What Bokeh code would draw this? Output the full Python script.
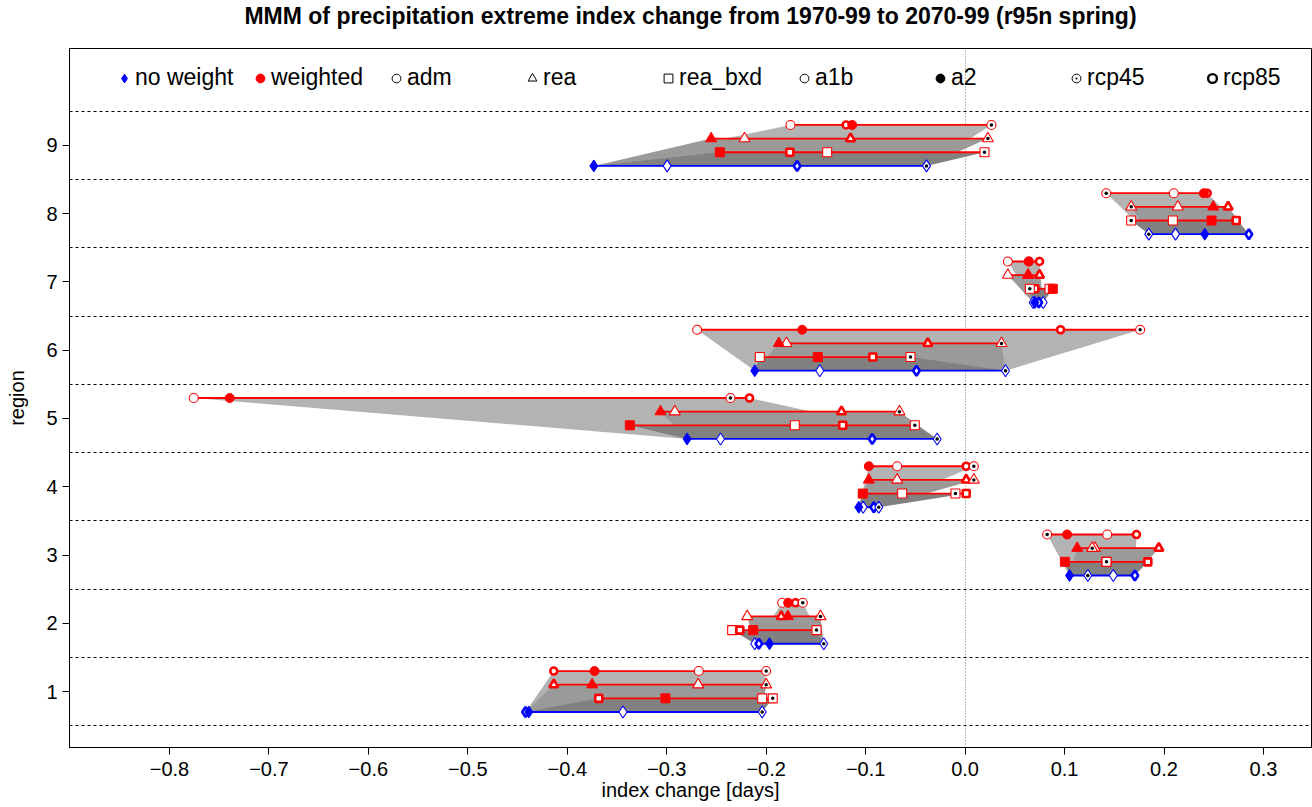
from bokeh.plotting import figure
from bokeh.models import Range1d, FixedTicker, Legend, LegendItem, CustomJSTickFormatter, Title
from bokeh.embed import file_html
from bokeh.resources import INLINE

regions = [1, 2, 3, 4, 5, 6, 7, 8, 9]
scenarios = ["a1b", "a2", "rcp45", "rcp85"]

# no weight (blue diamonds)
nw_a1b = [-0.344, -0.2115, 0.149, -0.1025, -0.2459, -0.1461, 0.0785, 0.2116, -0.2996]
nw_a2 = [-0.4387, -0.1967, 0.105, -0.1069, -0.2795, -0.2115, 0.0701, 0.241, -0.3733]
nw_rcp45 = [-0.204, -0.1421, 0.1234, -0.0868, -0.0281, 0.0406, 0.0684, 0.1847, -0.0388]
nw_rcp85 = [-0.442, -0.2074, 0.1707, -0.0918, -0.0934, -0.0489, 0.0741, 0.2853, -0.1689]

# rea_bxd (red squares)
bxd_a1b = [-0.204, -0.2342, 0.142, -0.0633, -0.1712, -0.2064, 0.0849, 0.2089, -0.1387]
bxd_a2 = [-0.3013, -0.2131, 0.1003, -0.1029, -0.3371, -0.1481, 0.0882, 0.2478, -0.2466]
bxd_rcp45 = [-0.1934, -0.1494, 0.1422, -0.0097, -0.0506, -0.0549, 0.0651, 0.167, 0.0195]
bxd_rcp85 = [-0.3683, -0.2265, 0.1837, 0.0011, -0.123, -0.0928, 0.0701, 0.2726, -0.1762]

# rea (red triangles)
rea_a1b = [-0.2684, -0.2191, 0.1305, -0.0683, -0.2919, -0.1796, 0.043, 0.2139, -0.2218]
rea_a2 = [-0.375, -0.1782, 0.1127, -0.0968, -0.3063, -0.1873, 0.0634, 0.2495, -0.2553]
rea_rcp45 = [-0.200, -0.1454, 0.1278, 0.0088, -0.066, 0.0366, 0.0634, 0.167, 0.0229]
rea_rcp85 = [-0.4136, -0.1849, 0.1948, 0.0011, -0.1243, -0.0375, 0.0748, 0.2645, -0.1152]

# adm (red circles)
adm_a1b = [-0.2678, -0.1839, 0.1429, -0.0683, -0.7756, -0.2694, 0.043, 0.2099, -0.1756]
adm_a2 = [-0.3726, -0.1779, 0.1026, -0.0968, -0.7394, -0.1638, 0.064, 0.240, -0.1135]
adm_rcp45 = [-0.200, -0.1632, 0.0825, 0.0088, -0.2359, 0.176, 0.064, 0.1419, 0.0265]
adm_rcp85 = [-0.4136, -0.1705, 0.1723, 0.0011, -0.2168, 0.096, 0.0748, 0.2434, -0.1196]

x_ticks = [-0.8, -0.7, -0.6, -0.5, -0.4, -0.3, -0.2, -0.1, 0.0, 0.1, 0.2, 0.3]

FONT = "Liberation Sans"
RED = "#ff0000"
BLUE = "#0000ff"

rows = [
    # name, values, marker, color, y offset, size, shade
    ("no weight", [nw_a1b, nw_a2, nw_rcp45, nw_rcp85], "diamond", BLUE, -0.3, 12, None),
    ("rea_bxd", [bxd_a1b, bxd_a2, bxd_rcp45, bxd_rcp85], "square", RED, -0.1, 9, "#818181"),
    ("rea", [rea_a1b, rea_a2, rea_rcp45, rea_rcp85], "triangle", RED, 0.1, 11, "#9a9a9a"),
    ("adm", [adm_a1b, adm_a2, adm_rcp45, adm_rcp85], "circle", RED, 0.3, 9, "#b3b3b3"),
]

p = figure(width=1312, height=807, output_backend="svg", toolbar_location=None,
           title_location=None,
           x_range=Range1d(-0.9005, 0.3483), y_range=Range1d(0.18, 10.42),
           min_border_left=69, min_border_right=1, min_border_top=48, min_border_bottom=60)

# shaded polygons: from the unweighted range to each weighted range
nw_vals = rows[0][1]
n = len(regions)
nw_min = [min(v[i] for v in nw_vals) for i in range(n)]
nw_max = [max(v[i] for v in nw_vals) for i in range(n)]
for name, vals, marker, color, off, size, shade in rows[1:][::-1]:
    xs, ys = [], []
    for i, r in enumerate(regions):
        mn = min(v[i] for v in vals)
        mx = max(v[i] for v in vals)
        xs.append([nw_min[i], nw_max[i], mx, mn])
        ys.append([r + rows[0][4], r + rows[0][4], r + off, r + off])
    p.patches(xs, ys, fill_color=shade, fill_alpha=1.0, line_color=None)

# range lines
for name, vals, marker, color, off, size, shade in rows:
    mn = [min(v[i] for v in vals) for i in range(n)]
    mx = [max(v[i] for v in vals) for i in range(n)]
    yy = [r + off for r in regions]
    p.segment(x0=mn, y0=yy, x1=mx, y1=yy, line_color=color, line_width=1.8)

# markers
for name, vals, marker, color, off, size, shade in rows:
    yy = [r + off for r in regions]
    a1b, a2, r45, r85 = vals
    p.scatter(a1b, yy, marker=marker, size=size, fill_color="white", line_color=color, line_width=1.1)
    p.scatter(r85, yy, marker=marker, size=size - 2, fill_color="white", line_color=color, line_width=2.6)
    p.scatter(r45, yy, marker=marker, size=size, fill_color="white", line_color=color, line_width=1.1)
    p.scatter(r45, yy, marker="circle", size=3.5, fill_color="black", line_color=None)
    p.scatter(a2, yy, marker=marker, size=size, fill_color=color, line_color=color, line_width=1)

# legend (glyph-only renderers, nothing plotted)
NAN = float("nan")
def lg(marker, fill, line, lw=1.0):
    return [p.scatter([NAN], [NAN], marker=marker, fill_color=fill, line_color=line, line_width=lw)]

legend_items = [
    ("no weight", lg("diamond", BLUE, BLUE)),
    ("weighted", lg("circle", RED, RED)),
    ("adm", lg("circle", "white", "black")),
    ("rea", lg("triangle", "white", "black")),
    ("rea_bxd", lg("square", "white", "black")),
    ("a1b", lg("circle", "white", "black")),
    ("a2", lg("circle", "black", "black")),
    ("rcp45", lg("circle_dot", "white", "black")),
    ("rcp85", lg("circle", "white", "black", lw=2.4)),
]
leg = Legend(items=[LegendItem(label=t, renderers=r) for t, r in legend_items],
             orientation="horizontal", location=(44, 656),
             glyph_width=22, glyph_height=22, label_standoff=0, label_width=100, spacing=14,
             padding=0, margin=0, border_line_alpha=0, background_fill_alpha=0,
             label_text_font=FONT, label_text_font_size="23px", label_height=22,
             label_text_color="black")
p.add_layout(leg, "center")

# axes
p.xaxis.ticker = FixedTicker(ticks=x_ticks)
p.xaxis.formatter = CustomJSTickFormatter(code="return (tick < -1e-9 ? '\u2212' : '') + Math.abs(tick).toFixed(1);")
p.yaxis.ticker = FixedTicker(ticks=regions)
for ax in (p.xaxis, p.yaxis):
    ax.major_tick_out = 7
    ax.major_tick_in = 0
    ax.minor_tick_line_color = None
    ax.axis_line_color = "black"
    ax.major_tick_line_color = "black"
    ax.major_label_text_font = FONT
    ax.major_label_text_font_size = "20px"
    ax.major_label_text_color = "black"
    ax.axis_label_text_font = FONT
    ax.axis_label_text_font_size = "20px"
    ax.axis_label_text_font_style = "normal"
    ax.axis_label_text_color = "black"
p.xaxis.major_label_standoff = 7
p.xaxis.axis_label_standoff = 0
p.yaxis.axis_label_standoff = 15
p.yaxis.major_label_orientation = "horizontal"
p.xaxis.axis_label = "index change [days]"
p.yaxis.axis_label = "region"

p.ygrid.ticker = FixedTicker(ticks=[r - 0.5 for r in regions] + [regions[-1] + 0.5])
p.ygrid.grid_line_color = "black"
p.ygrid.grid_line_dash = "3 3"
p.ygrid.grid_line_width = 1
p.xgrid.ticker = FixedTicker(ticks=[0.0])
p.xgrid.grid_line_color = "#777777"
p.xgrid.grid_line_dash = "1 2"

p.outline_line_color = "black"
p.outline_line_width = 1

# spacer between frame and title, then the title itself (farther out)
p.add_layout(Title(text=" ", text_font_size="1px", standoff=17), "above")
p.add_layout(Title(text="MMM of precipitation extreme index change from 1970-99 to 2070-99 (r95n spring)",
                   text_font=FONT, text_font_size="23px", text_font_style="bold",
                   text_color="black", align="center", standoff=0), "above")

open("out.html", "w").write(file_html(p, INLINE))
